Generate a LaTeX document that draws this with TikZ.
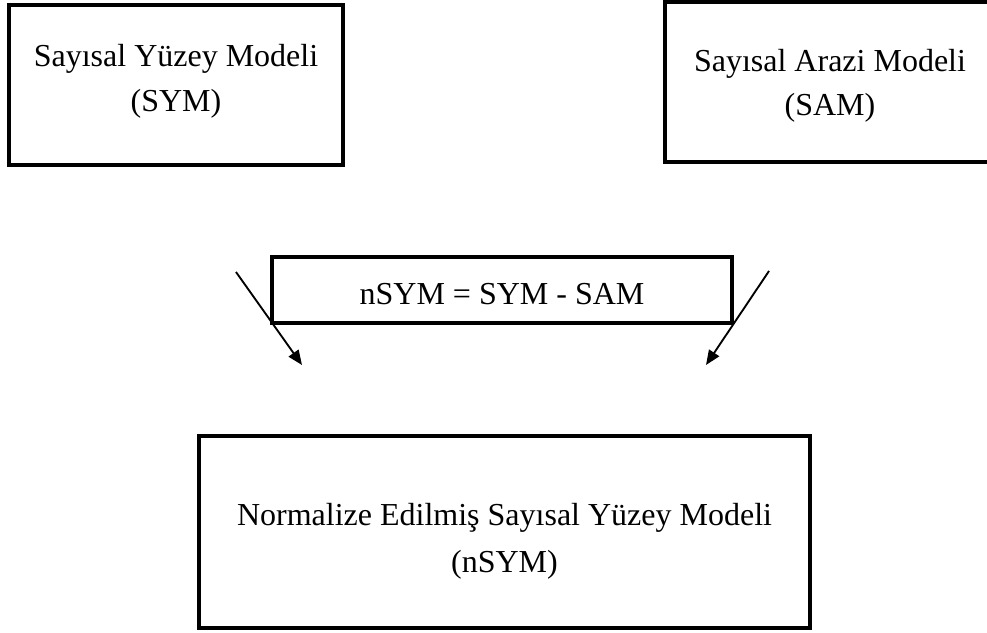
\documentclass[tikz,border=0pt]{standalone}
\usepackage{fontspec}
\setmainfont{Liberation Serif}
\usetikzlibrary{arrows.meta}

\begin{document}
\begin{tikzpicture}[x=0.75pt,y=-0.75pt,
  kutu/.style={draw,line width=2.8pt,inner sep=0pt},
  yazi/.style={anchor=base,inner sep=0pt,font=\fontsize{24}{29}\selectfont},
  ok/.style={line width=1.4pt,-{Triangle[length=11pt,width=9pt]}}]
\useasboundingbox (0,0) rectangle (987,632);
% ust kutular
\node[kutu,minimum width=250.5pt,minimum height=120pt] (sym) at (176,85) {};
\node[yazi] (sym1) at (176,66) {Sayısal Yüzey Modeli};
\node[yazi] (sym2) at (176,111) {(SYM)};
\node[kutu,minimum width=247.5pt,minimum height=120pt] (sam) at (830,82) {};
\node[yazi] (sam1) at (830,71) {Sayısal Arazi Modeli};
\node[yazi] (sam2) at (830,115) {(SAM)};
% fark
\node[kutu,minimum width=345pt,minimum height=49.5pt] (fark) at (502,290) {};
\node[yazi] (fark1) at (502,304) {nSYM = SYM - SAM};
% oklar
\coordinate (ok1a) at (236,272);
\coordinate (ok1b) at (302,365);
\coordinate (ok2a) at (769,271);
\coordinate (ok2b) at (706,365);
\draw[ok] (ok1a) -- (ok1b);
\draw[ok] (ok2a) -- (ok2b);
% alt kutu
\node[kutu,minimum width=458.25pt,minimum height=144pt] (nsym) at (504.5,532) {};
\node[yazi] (nsym1) at (504.5,525) {Normalize Edilmiş Sayısal Yüzey Modeli};
\node[yazi] (nsym2) at (504.5,572) {(nSYM)};
\end{tikzpicture}
\end{document}
